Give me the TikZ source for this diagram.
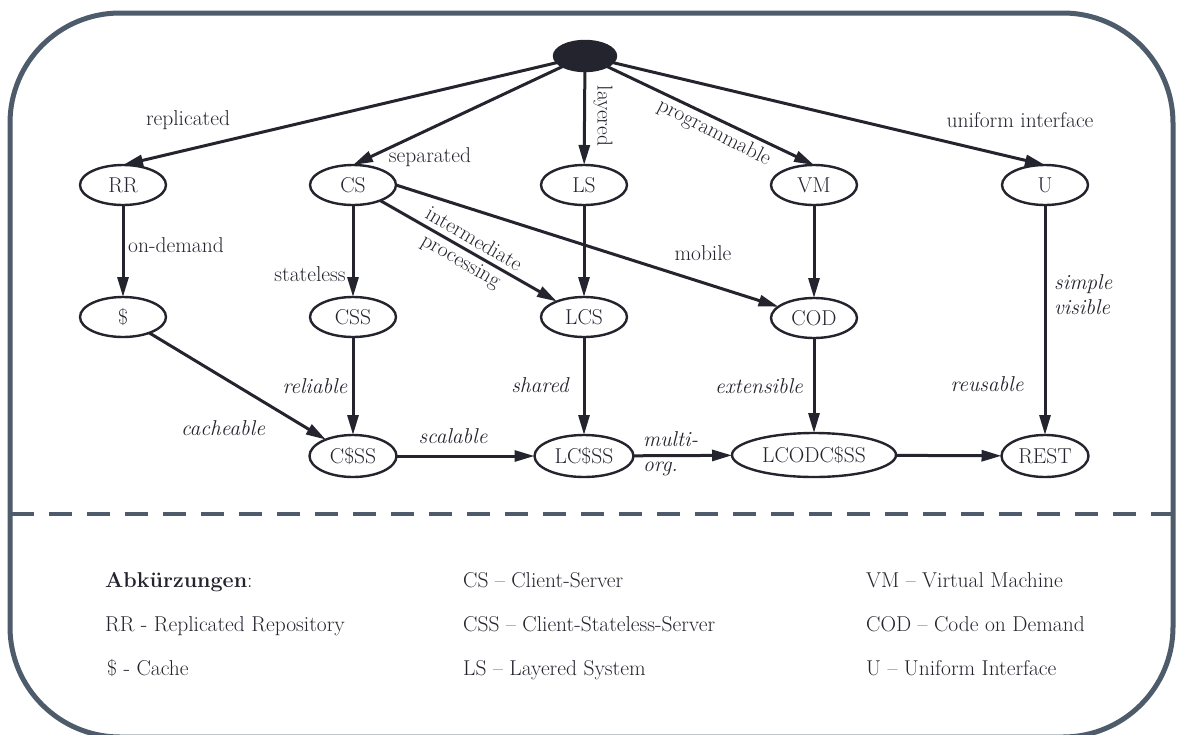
\documentclass[tikz,border=0pt]{standalone}
\usepackage{fontspec}
\usetikzlibrary{shapes.geometric,arrows.meta}
\definecolor{ink}{RGB}{36,36,46}
\definecolor{framecol}{RGB}{77,91,106}
\begin{document}
\begin{tikzpicture}[x=1pt,y=-1pt,
  every node/.style={font=\rmfamily\fontsize{21.5}{25}\selectfont, text=ink},
  stnode/.style={ellipse, draw=ink, line width=2.4pt, inner sep=0pt, outer sep=0pt,
                 minimum width=86pt, minimum height=40pt},
  wide/.style={minimum height=42pt},
  conn/.style={draw=ink, line width=3pt, -{Triangle[length=20pt,width=11pt]}},
  lbl/.style={inner sep=0pt},
  ilbl/.style={inner sep=0pt, font=\rmfamily\fontsize{21.5}{25}\selectfont\itshape},
]
\useasboundingbox (0,0) rectangle (1181,734);
\clip (0,0) rectangle (1181,734);

% outer frame and separator
\draw[framecol, line width=5pt, rounded corners=110pt] (10,13) rectangle (1173,737);
\draw[framecol, line width=4.5pt, dash pattern=on 23pt off 15pt] (11,514) -- (1173,514);

% states
\node[stnode, fill=ink, minimum width=62pt, minimum height=30pt] (root) at (585,56) {};
\node[stnode] (RR)  at (123,185) {RR};
\node[stnode] (CS)  at (353,185) {CS};
\node[stnode] (LS)  at (584,185) {LS};
\node[stnode] (VM)  at (814,185) {VM};
\node[stnode] (U)   at (1045,185) {U};
\node[stnode] (C)   at (123,317) {\$};
\node[stnode] (CSS) at (353,317) {CSS};
\node[stnode] (LCS) at (584,317) {LCS};
\node[stnode] (COD) at (814,318) {COD};
\node[stnode, wide, minimum width=87pt]  (CCSS)    at (353,456) {C\$SS};
\node[stnode, wide, minimum width=99pt]  (LCCSS)   at (584,456) {LC\$SS};
\node[stnode, minimum width=164pt, minimum height=44pt] (LCODCSS) at (814,455) {LCODC\$SS};
\node[stnode, wide, minimum width=87pt]  (REST)    at (1045,456) {REST};

% derivations
\draw[conn] (root) -- (RR.north);
\draw[conn] (root) -- (CS.north);
\draw[conn] (root) -- (LS);
\draw[conn] (root) -- (VM.north);
\draw[conn] (root) -- (U.north);
\draw[conn] (RR) -- (C);
\draw[conn] (CS) -- (CSS);
\draw[conn] (CS) -- (LCS);
\draw[conn] (CS.east) -- (COD);
\draw[conn] (LS) -- (LCS);
\draw[conn] (VM) -- (COD);
\draw[conn] (U) -- (REST);
\draw[conn] (C) -- (CCSS);
\draw[conn] (CSS) -- (CCSS);
\draw[conn] (LCS) -- (LCCSS);
\draw[conn] (COD) -- (LCODCSS);
\draw[conn] (CCSS) -- (LCCSS);
\draw[conn] (LCCSS) -- (LCODCSS);
\draw[conn] (LCODCSS) -- (REST);

% constraint labels
\node[lbl] (l-rep) at (188,120) {replicated};
\node[lbl] (l-sep) at (430,157) {separated};
\node[lbl, rotate=-90] (l-lay) at (603,116) {layered};
\node[lbl, rotate=-27] (l-prog) at (714,133) {programmable};
\node[lbl] (l-uni) at (1020,120) {uniform interface};
\node[lbl] (l-ond) at (176,245) {on-demand};
\node[lbl] (l-stl) at (310,274) {stateless};
\node[lbl, rotate=-30, align=center] (l-int) at (467,251) {intermediate\\processing};
\node[lbl] (l-mob) at (703,253) {mobile};
\node[ilbl, anchor=west, align=left] (l-sim) at (1054,295) {simple\\visible};
\node[ilbl] (l-ext) at (759,386) {extensible};
\node[ilbl] (l-reu) at (987,384) {reusable};
\node[ilbl] (l-rel) at (315,386) {reliable};
\node[ilbl] (l-sha) at (540,385) {shared};
\node[ilbl] (l-cac) at (223,428) {cacheable};
\node[ilbl] (l-sca) at (453,436) {scalable};
\node[ilbl, anchor=west, align=left] (l-mul) at (643,454) {multi-\\org.};

% abbreviations
\node[lbl, anchor=base west] (k0) at (105,587) {\textbf{Abkürzungen}:};
\node[lbl, anchor=base west] (k1) at (105,631) {RR - Replicated Repository};
\node[lbl, anchor=base west] (k2) at (107,675) {\$ - Cache};
\node[lbl, anchor=base west] (k3) at (463,587) {CS – Client-Server};
\node[lbl, anchor=base west] (k4) at (463,631) {CSS – Client-Stateless-Server};
\node[lbl, anchor=base west] (k5) at (463,675) {LS – Layered System};
\node[lbl, anchor=base west] (k6) at (866,587) {VM – Virtual Machine};
\node[lbl, anchor=base west] (k7) at (866,631) {COD – Code on Demand};
\node[lbl, anchor=base west] (k8) at (866,675) {U – Uniform Interface};
\end{tikzpicture}
\end{document}
